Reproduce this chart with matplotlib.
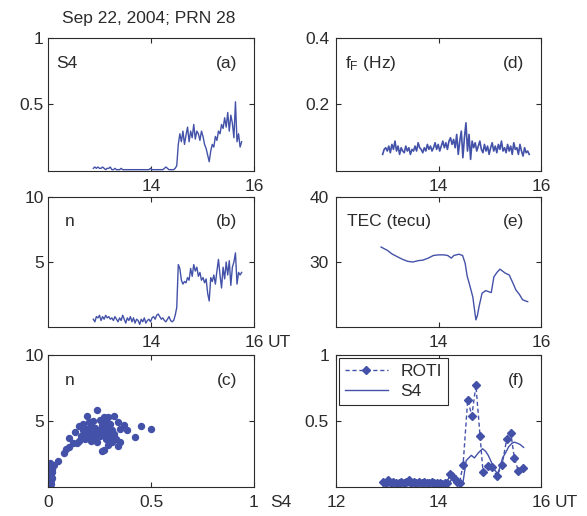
import numpy as np
import matplotlib
matplotlib.use('Agg')
import matplotlib.pyplot as plt

plt.rcParams['font.family'] = ['Liberation Sans', 'DejaVu Sans']
plt.rcParams['font.size'] = 12.5

# ---- data ----
title = 'Sep 22, 2004; PRN 28'

# (a) S4 and (b) n, same sampling, 12.88 .. 15.76 UT
s4_span = (12.88, 15.76)
s4 = [0.02, 0.03, 0.02, 0.03, 0.02, 0.02, 0.03, 0.02, 0.01, 0.02, 0.02, 0.03, 0.01, 0.01,
      0.02, 0.01, 0.01, 0.01, 0.02, 0.01, 0.01, 0.01, 0.01, 0.01, 0.01, 0.01, 0.01, 0.01,
      0.01, 0.01, 0.01, 0.01, 0.01, 0.01, 0.01, 0.01, 0.01, 0.02, 0.01, 0.01, 0.01, 0.01,
      0.01, 0.01, 0.01, 0.01, 0.02, 0.03, 0.02, 0.01, 0.01, 0.01, 0.01, 0.02,
      0.04, 0.20, 0.28, 0.22, 0.30, 0.20, 0.27, 0.33, 0.22, 0.30, 0.25, 0.35, 0.24, 0.30,
      0.28, 0.23, 0.30, 0.26, 0.20, 0.17, 0.12, 0.07, 0.15, 0.20, 0.18, 0.26, 0.23, 0.30,
      0.28, 0.35, 0.32, 0.40, 0.33, 0.44, 0.30, 0.42, 0.36, 0.25, 0.52, 0.22, 0.28, 0.18, 0.22]
n_idx = [0.6, 0.4, 0.8, 0.7, 0.9, 0.5, 0.8, 0.6, 0.9, 0.7, 0.8, 0.6, 0.7, 0.5, 0.8, 0.6,
         0.4, 0.7, 0.5, 0.9, 0.6, 0.3, 0.7, 0.5, 0.8, 0.4, 0.7, 0.3, 0.6, 0.5, 0.2, 0.6,
         0.4, 0.7, 0.3, 0.5, 0.6, 0.4, 0.7, 0.8, 0.6, 0.9, 1.0, 0.8, 0.6, 0.7, 0.5, 0.4,
         0.6, 0.8, 0.5, 0.4, 0.5, 0.9,
         1.5, 4.8, 4.5, 3.6, 3.3, 3.5, 3.4, 3.8, 3.6, 4.5, 3.9, 4.8, 4.3, 4.6, 3.9, 4.2,
         3.6, 3.8, 3.4, 3.7, 2.6, 2.0, 3.8, 3.5, 4.0, 3.3, 4.3, 5.2, 4.0, 3.0, 4.6, 3.7,
         5.0, 4.0, 5.1, 3.2, 4.6, 5.0, 5.7, 3.3, 4.2, 4.0, 4.2]

# (c) n versus S4
c_s4 = [0.005, 0.01, 0.01, 0.015, 0.005, 0.01, 0.02, 0.01, 0.005, 0.015, 0.01, 0.02, 0.01,
        0.005, 0.015, 0.01, 0.02, 0.01, 0.015, 0.005,
        0.03, 0.05, 0.08, 0.085, 0.10, 0.12,
        0.10, 0.13, 0.14, 0.15, 0.16, 0.17, 0.18, 0.18, 0.19, 0.19, 0.20, 0.20, 0.21, 0.21,
        0.22, 0.22, 0.23, 0.23, 0.24, 0.24, 0.24, 0.25, 0.25, 0.26, 0.26, 0.27, 0.27, 0.27,
        0.28, 0.28, 0.29, 0.29, 0.29, 0.30, 0.30, 0.31, 0.31, 0.32, 0.32, 0.33, 0.34, 0.34,
        0.35, 0.35, 0.37, 0.385, 0.42, 0.45, 0.50, 0.15, 0.17, 0.20, 0.25, 0.28]
c_n = [0.2, 0.4, 0.6, 0.8, 1.0, 1.2, 1.4, 0.3, 0.7, 0.5, 0.9, 1.1, 1.6, 0.1, 1.3, 0.0,
       0.7, 1.8, 0.2, 0.5,
       1.7, 2.0, 2.6, 2.9, 3.0, 3.3,
       3.7, 4.2, 3.3, 3.5, 3.9, 4.3, 4.0, 3.6, 4.4, 5.4, 3.8, 4.1, 4.6, 3.5,
       5.0, 4.2, 3.7, 4.5, 5.8, 4.0, 3.4, 4.3, 3.9, 4.7, 2.7, 5.3, 4.1, 2.8,
       3.6, 4.5, 5.3, 4.0, 3.2, 4.8, 3.7, 4.3, 3.4, 5.4, 4.0, 3.6, 4.9, 3.1,
       3.4, 4.4, 4.7, 4.3, 3.8, 4.6, 4.4, 4.6, 4.8, 4.9, 5.1, 5.0]

# (d) fading frequency, 12.91 .. 15.77 UT
ff_span = (12.91, 15.77)
f_fade = [0.05, 0.065, 0.07, 0.06, 0.075, 0.055, 0.08, 0.065, 0.09, 0.06, 0.075, 0.05,
          0.07, 0.06, 0.055, 0.075, 0.06, 0.07, 0.05, 0.065,
          0.06, 0.075, 0.06, 0.085, 0.07, 0.065, 0.055, 0.07, 0.06, 0.08, 0.065, 0.075,
          0.06, 0.07, 0.085, 0.065, 0.08, 0.06, 0.075, 0.09,
          0.07, 0.085, 0.065, 0.09, 0.10, 0.08, 0.095, 0.07, 0.11, 0.05, 0.09, 0.12,
          0.04, 0.10, 0.145, 0.06, 0.11, 0.035, 0.09, 0.07,
          0.085, 0.06, 0.075, 0.09, 0.065, 0.055, 0.08, 0.06, 0.075, 0.05, 0.07, 0.085,
          0.06, 0.075, 0.055, 0.08, 0.065, 0.09, 0.06, 0.07,
          0.055, 0.08, 0.06, 0.075, 0.05, 0.085, 0.065, 0.07, 0.05, 0.08, 0.06, 0.045,
          0.07, 0.055, 0.06, 0.05]

# (e) TEC
tec_t = [12.88, 13.0, 13.1, 13.2, 13.3, 13.4, 13.5, 13.6, 13.7, 13.8, 13.9, 14.0, 14.1,
         14.18, 14.25, 14.3, 14.4, 14.47, 14.52, 14.56, 14.6, 14.64, 14.67, 14.7, 14.73,
         14.76, 14.79, 14.85, 14.92, 14.99, 15.03, 15.08, 15.14, 15.2, 15.25, 15.3, 15.38,
         15.45, 15.51, 15.58, 15.64, 15.7, 15.74]
tec = [32.3, 31.8, 31.2, 30.8, 30.4, 30.1, 30.0, 30.2, 30.3, 30.6, 31.0, 31.1, 31.1,
       31.0, 30.6, 31.0, 31.2, 31.0, 29.8, 27.8, 26.7, 25.5, 24.6, 22.8, 21.1,
       21.8, 23.1, 25.2, 25.6, 25.4, 25.3, 27.7, 28.4, 28.9, 28.6, 28.3, 28.0,
       26.8, 25.7, 25.0, 24.2, 24.0, 23.9]

# (f) ROTI and smoothed S4
roti_t = [12.92, 12.97, 13.02, 13.07, 13.12, 13.17, 13.22, 13.27, 13.32, 13.37, 13.42,
          13.47, 13.52, 13.57, 13.62, 13.67, 13.72, 13.77, 13.82, 13.87, 13.92, 13.97,
          14.02, 14.07, 14.12, 14.17, 14.22, 14.27, 14.32, 14.37, 14.41,
          14.48, 14.57, 14.65, 14.73, 14.81, 14.87, 14.96, 15.04, 15.14, 15.24, 15.33,
          15.41, 15.48, 15.56, 15.65]
roti = [0.04, 0.03, 0.05, 0.03, 0.04, 0.03, 0.03, 0.04, 0.03, 0.04, 0.05,
        0.03, 0.04, 0.03, 0.04, 0.03, 0.04, 0.03, 0.03, 0.04, 0.03, 0.03,
        0.03, 0.02, 0.03, 0.03, 0.10, 0.08, 0.06, 0.04, 0.03,
        0.17, 0.66, 0.54, 0.77, 0.39, 0.11, 0.16, 0.155, 0.08, 0.17, 0.36,
        0.41, 0.22, 0.12, 0.145]
s4s_t = [12.92, 13.3, 13.7, 14.1, 14.2, 14.27, 14.35, 14.42, 14.48, 14.54, 14.59, 14.64,
         14.70, 14.78, 14.86, 14.92, 14.97, 15.03, 15.08, 15.15, 15.20, 15.25, 15.31,
         15.37, 15.43, 15.48, 15.55, 15.60, 15.66]
s4s = [0.01, 0.01, 0.01, 0.01, 0.02, 0.07, 0.04, 0.02, 0.04, 0.20, 0.22, 0.24,
       0.22, 0.26, 0.29, 0.27, 0.24, 0.19, 0.14, 0.10, 0.15, 0.22, 0.26,
       0.305, 0.33, 0.34, 0.33, 0.32, 0.30]

ut_ticks = [14, 16]
ut_labels = ['14', '16']
# ----------------------------------

blue = '#4352A8'
ink = '#2b2b2b'

fig = plt.figure(figsize=(5.87, 5.16), dpi=100)
W, H = 587, 516


def px_axes(left, top, right, bottom):
    return fig.add_axes([left / W, 1 - bottom / H, (right - left) / W, (bottom - top) / H])


def dress(ax, ylim, yticks, ylabels, xticks, xlabels, xlim=(12, 16), ypad=3):
    ax.set_xlim(xlim)
    ax.set_ylim(ylim)
    ax.set_xticks(xticks, xlabels)
    ax.set_yticks(yticks, ylabels)
    ax.tick_params(direction='in', top=True, right=True, length=3.5, width=0.8,
                   color=ink, labelcolor=ink, labelsize=12.5)
    ax.tick_params(axis='x', pad=5.5)
    ax.tick_params(axis='y', pad=ypad)
    for sp in ax.spines.values():
        sp.set_linewidth(0.8)
        sp.set_color(ink)


def tag(ax, name, letter, xname=0.04):
    ax.text(xname, 0.81, name, transform=ax.transAxes, ha='left', va='center', color=ink)
    ax.text(0.917, 0.81, letter, transform=ax.transAxes, ha='right', va='center', color=ink)


def unit(ax, s, dx):
    ax.annotate(s, xy=(1, 0), xycoords='axes fraction', xytext=(dx, -5.5),
                textcoords='offset points', ha='left', va='top', color=ink)


ax_a = px_axes(48, 38, 254, 171)
ax_b = px_axes(48, 197, 254, 327)
ax_c = px_axes(48, 355, 254, 487)
ax_d = px_axes(336, 38, 541, 171)
ax_e = px_axes(336, 197, 541, 327)
ax_f = px_axes(336, 355, 541, 487)

t_s4 = np.linspace(s4_span[0], s4_span[1], len(s4))
t_ff = np.linspace(ff_span[0], ff_span[1], len(f_fade))

# (a)
ax_a.plot(t_s4, s4, color=blue, lw=1.0)
dress(ax_a, (0, 1), [0.5, 1], ['0.5', '1'], ut_ticks, ut_labels)
tag(ax_a, 'S4', '(a)')

# (b)
ax_b.plot(t_s4, n_idx, color=blue, lw=1.0)
dress(ax_b, (0, 10), [5, 10], ['5', '10'], ut_ticks, ut_labels)
tag(ax_b, 'n', '(b)', 0.083)
unit(ax_b, 'UT', 9.5)

# (c)
ax_c.plot(c_s4, c_n, 'o', color=blue, ms=4.3, mec=blue)
dress(ax_c, (0, 10), [5, 10], ['5', '10'], [0, 0.5, 1], ['0', '0.5', '1'], xlim=(0, 1))
tag(ax_c, 'n', '(c)', 0.083)
unit(ax_c, 'S4', 11.5)

# (d)
ax_d.plot(t_ff, f_fade, color=blue, lw=1.2)
dress(ax_d, (0, 0.4), [0.2, 0.4], ['0.2', '0.4'], ut_ticks, ut_labels, ypad=5)
tag(ax_d, r'$\mathregular{f_F}$ (Hz)', '(d)', 0.044)

# (e)
ax_e.plot(tec_t, tec, color=blue, lw=1.0)
dress(ax_e, (20, 40), [30, 40], ['30', '40'], ut_ticks, ut_labels, ypad=5)
tag(ax_e, 'TEC (tecu)', '(e)', 0.054)

# (f)
ax_f.plot(roti_t, roti, '--D', color=blue, lw=1.0, ms=4.2, dashes=(3, 2), label='ROTI')
ax_f.plot(s4s_t, s4s, '-', color=blue, lw=1.0, label='S4')
dress(ax_f, (0, 1), [0.5, 1], ['0.5', '1'], [12, 14, 16], ['12', '14', '16'], ypad=5)
ax_f.text(0.917, 0.81, '(f)', transform=ax_f.transAxes, ha='right', va='center', color=ink)
unit(ax_f, 'UT', 9.5)
leg = ax_f.legend(loc='upper left', borderaxespad=0.15, fancybox=False, framealpha=1,
                  edgecolor=ink, handlelength=2.5, handletextpad=0.7, labelspacing=0.3,
                  borderpad=0.35, fontsize=12.5)
leg.get_frame().set_linewidth(0.8)
for txt in leg.get_texts():
    txt.set_color(ink)

fig.text(149 / W, 1 - 18 / H, title, ha='center', va='center', color=ink)

fig.savefig('out.png', dpi=100)
